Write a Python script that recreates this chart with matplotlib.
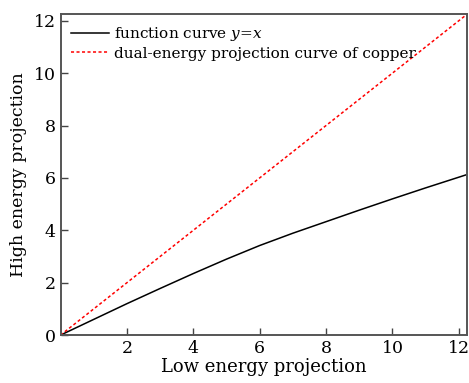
import numpy as np
import matplotlib.pyplot as plt

plt.rcParams['font.family'] = ['DejaVu Serif']
plt.rcParams['mathtext.fontset'] = 'dejavuserif'

# black curve read along the low energy axis
low_energy = [0.0, 1.0, 2.0, 3.0, 4.0, 5.0, 6.0, 7.0, 8.0, 9.0, 10.0, 11.0, 12.25]
high_energy = [0.0, 0.60, 1.20, 1.78, 2.35, 2.90, 3.42, 3.89, 4.33, 4.77, 5.20, 5.62, 6.13]

# red dotted reference line
ref_x = [0.0, 12.25]
ref_y = [0.0, 12.25]

fig, ax = plt.subplots(figsize=(4.69, 3.83), dpi=100)
fig.subplots_adjust(left=0.129, right=0.996, top=0.963, bottom=0.125)

ax.plot(low_energy, high_energy, color='black', lw=1.1, label='function curve $y$=$x$')
ax.plot(ref_x, ref_y, color='red', lw=1.1, linestyle=(0, (2, 1.6)),
        label='dual-energy projection curve of copper')

ax.set_xlim(0, 12.25)
ax.set_ylim(0, 12.25)
ax.set_xticks([2, 4, 6, 8, 10, 12])
ax.set_yticks([0, 2, 4, 6, 8, 10, 12])
ax.tick_params(direction='in', length=5, width=1, labelsize=12.5, color='#444444')
ax.set_xlabel('Low energy projection', fontsize=13, labelpad=1)
ax.set_ylabel('High energy projection', fontsize=12.5, labelpad=5)
for sp in ax.spines.values():
    sp.set_color('#555555')
    sp.set_linewidth(1.4)

ax.legend(loc='upper left', frameon=False, fontsize=11, handlelength=2.5,
          handletextpad=0.3, borderaxespad=0.3, labelspacing=0.25)

fig.savefig('out.png', dpi=100)
